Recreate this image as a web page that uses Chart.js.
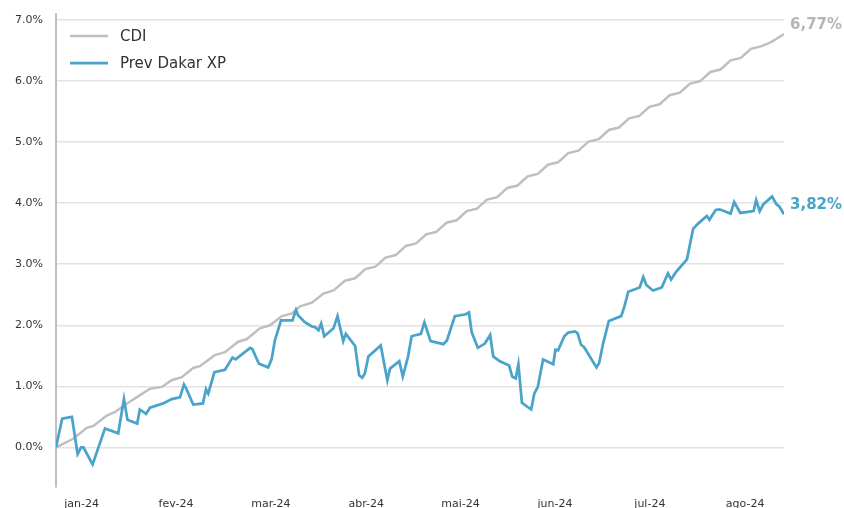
<!DOCTYPE html>
<html><head><meta charset="utf-8">
<script src="https://cdn.jsdelivr.net/npm/chart.js@4"></script>
<style>html,body{margin:0;padding:0;background:#fff}#wrap{width:844px;height:508px}</style>
</head><body><div id="wrap"><canvas id="c" width="844" height="508"></canvas></div>
<script>
// x = business-day index (0 = start of January 2024)
const monthLabels = ['jan-24','fev-24','mar-24','abr-24','mai-24','jun-24','jul-24','ago-24'];
const monthTickDays = [5.8, 27.2, 48.7, 70.3, 91.7, 113.1, 134.6, 156.2];
const yTickValues = [0, 1, 2, 3, 4, 5, 6, 7];

const cdiDays = [0,3.9,7.0,8.5,11.5,13.4,17.2,21.3,24.0,26.2,28.5,31.1,32.6,36.0,38.3,41.3,43.2,46.2,48.5,51.2,53.4,55.3,58.0,60.6,62.9,65.5,67.8,70.1,72.4,74.7,77.0,79.3,81.6,83.9,86.2,88.5,90.8,93.1,95.4,97.7,100.0,102.3,104.6,106.9,109.2,111.5,113.8,116.1,118.4,120.7,123.0,125.3,127.6,129.9,132.2,134.5,136.8,139.1,141.4,143.7,146.0,148.3,150.6,152.9,155.2,157.5,159.8,162.1,165];
const cdiValues = [0,0.14,0.32,0.35,0.52,0.58,0.77,0.96,0.99,1.10,1.15,1.30,1.33,1.51,1.56,1.73,1.77,1.95,2.00,2.15,2.19,2.31,2.37,2.52,2.57,2.73,2.77,2.92,2.96,3.11,3.15,3.30,3.34,3.49,3.53,3.68,3.72,3.87,3.91,4.06,4.10,4.25,4.29,4.44,4.48,4.63,4.67,4.82,4.86,5.01,5.05,5.20,5.24,5.39,5.43,5.58,5.62,5.77,5.81,5.96,6.00,6.15,6.19,6.34,6.38,6.53,6.57,6.64,6.77];

const prevDays = [0,1.4,3.6,4.9,5.7,6.2,8.3,11.1,14.1,15.4,16.2,18.4,19.0,20.4,21.3,24.3,26.2,28.1,29.0,29.6,31.1,33.3,34.0,34.5,35.9,38.3,40.0,40.7,44.0,44.5,46.0,48.1,48.9,49.6,51.0,53.6,54.4,54.9,56.4,58.0,58.7,59.5,60.1,60.8,62.9,63.8,65.1,65.7,67.8,68.7,69.4,70.0,70.8,73.6,75.1,75.7,77.8,78.6,79.8,80.6,82.7,83.5,84.9,87.8,88.6,90.4,92.9,93.6,94.2,95.6,97.2,98.4,99.1,100.6,102.7,103.4,104.2,104.8,105.6,107.7,108.4,109.2,110.4,112.7,113.2,113.8,115.2,116.1,117.6,118.2,119.0,119.7,122.5,123.1,124.0,125.3,128.1,128.8,129.7,132.3,133.1,133.8,135.3,137.3,138.7,139.4,140.5,143.0,144.4,145.6,147.5,148.1,149.5,150.4,152.9,153.7,155.1,158.1,158.7,159.5,160.3,162.3,163.3,163.9,165];
const prevValues = [0.00,0.47,0.50,-0.11,0.00,0.00,-0.28,0.31,0.23,0.79,0.45,0.39,0.62,0.55,0.65,0.72,0.79,0.82,1.03,0.95,0.70,0.72,0.95,0.88,1.23,1.27,1.47,1.44,1.63,1.61,1.37,1.31,1.45,1.75,2.08,2.08,2.25,2.16,2.05,1.98,1.97,1.92,2.03,1.82,1.95,2.15,1.74,1.86,1.66,1.18,1.14,1.21,1.49,1.67,1.10,1.29,1.41,1.16,1.49,1.82,1.86,2.05,1.74,1.69,1.75,2.15,2.18,2.21,1.89,1.63,1.70,1.84,1.49,1.41,1.34,1.16,1.13,1.36,0.73,0.62,0.88,0.99,1.44,1.36,1.60,1.59,1.82,1.88,1.90,1.87,1.68,1.64,1.31,1.38,1.70,2.07,2.15,2.30,2.55,2.62,2.79,2.66,2.57,2.62,2.85,2.75,2.87,3.08,3.58,3.67,3.79,3.73,3.89,3.90,3.83,4.02,3.84,3.87,4.05,3.87,3.98,4.11,3.98,3.95,3.82];

const GRAY = '#bfbfbf';
const BLUE = '#4aa3c9';
const FONT = 'DejaVu Sans';

const overlayPlugin = {
  id: 'overlay',
  afterDraw(chart) {
    const ctx = chart.ctx;
    const ca = chart.chartArea;
    ctx.save();
    // legend
    chart.data.datasets.forEach((ds, i) => {
      const y = ca.top + 22 + i * 27;
      ctx.strokeStyle = ds.borderColor;
      ctx.lineWidth = ds.borderWidth;
      ctx.beginPath();
      ctx.moveTo(ca.left + 14, y);
      ctx.lineTo(ca.left + 52, y);
      ctx.stroke();
      ctx.fillStyle = '#333333';
      ctx.font = '15px "' + FONT + '"';
      ctx.textBaseline = 'middle';
      ctx.textAlign = 'left';
      ctx.fillText(ds.label, ca.left + 64, y + 1);
    });
    // end labels
    chart.data.datasets.forEach((ds, i) => {
      const meta = chart.getDatasetMeta(i);
      const pt = meta.data[meta.data.length - 1];
      const v = ds.data[ds.data.length - 1].y;
      ctx.fillStyle = ds.labelColor;
      ctx.font = 'bold 15px "' + FONT + '"';
      ctx.textBaseline = 'middle';
      ctx.textAlign = 'left';
      ctx.fillText(v.toFixed(2).replace('.', ',') + '%', pt.x + 6, pt.y - 9);
    });
    ctx.restore();
  }
};

new Chart(document.getElementById('c'), {
  type: 'line',
  data: {
    datasets: [
      { label: 'CDI', data: cdiDays.map((d, i) => ({ x: d, y: cdiValues[i] })),
        borderColor: GRAY, labelColor: '#b5b5b5', borderWidth: 2.5, pointRadius: 0, tension: 0, order: 1 },
      { label: 'Prev Dakar XP', data: prevDays.map((d, i) => ({ x: d, y: prevValues[i] })),
        borderColor: BLUE, labelColor: BLUE, borderWidth: 2.75, pointRadius: 0, tension: 0, order: 0 }
    ]
  },
  options: {
    responsive: false,
    animation: false,
    devicePixelRatio: 1,
    layout: { padding: { top: 14, right: 60, left: 0, bottom: 0 } },
    plugins: { legend: { display: false }, tooltip: { enabled: false } },
    scales: {
      x: {
        type: 'linear', min: 0, max: 165,
        afterBuildTicks: s => { s.ticks = monthTickDays.map(v => ({ value: v })); },
        afterFit: s => { s.height = 21; },
        grid: { display: false, drawTicks: false },
        border: { display: false },
        ticks: { autoSkip: false, maxRotation: 0, padding: 11, color: '#333333',
          font: { family: FONT, size: 11 },
          callback: (v, i) => monthLabels[i] }
      },
      y: {
        min: -0.65, max: 7.1,
        afterBuildTicks: s => { s.ticks = yTickValues.map(v => ({ value: v })); },
        afterFit: s => { s.width = 56; },
        grid: { color: '#e3e3e3', lineWidth: 1.5, drawTicks: true, tickLength: 13, tickColor: 'rgba(0,0,0,0)' },
        border: { display: true, color: '#bfbfbf', width: 2 },
        ticks: { padding: 0, color: '#333333', font: { family: FONT, size: 11 },
          callback: v => v.toFixed(1) + '%' }
      }
    }
  },
  plugins: [overlayPlugin]
});
</script></body></html>
